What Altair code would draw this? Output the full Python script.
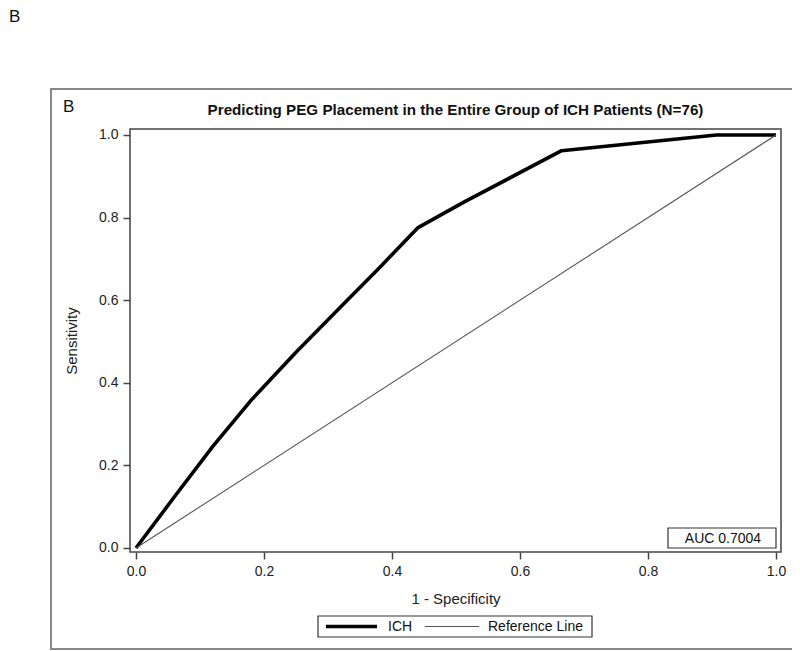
import altair as alt
import pandas as pd

# ---- data ----
fpr = [0.0, 0.06, 0.12, 0.18, 0.25, 0.32, 0.38, 0.44, 0.513, 0.665, 0.907, 1.0]
tpr = [0.0, 0.124, 0.246, 0.358, 0.474, 0.584, 0.678, 0.775, 0.838, 0.962, 1.0, 1.0]
ref_x = [0.0, 1.0]
ref_y = [0.0, 1.0]
series_names = ["ICH", "Reference Line"]
x_ticks = [0.0, 0.2, 0.4, 0.6, 0.8, 1.0]
y_ticks = [0.0, 0.2, 0.4, 0.6, 0.8, 1.0]
auc = 0.7004
title_text = "Predicting PEG Placement in the Entire Group of ICH Patients (N=76)"
panel_label = "B"
x_title = "1 - Specificity"
y_title = "Sensitivity"

df = pd.DataFrame({
    "x": fpr + ref_x,
    "y": tpr + ref_y,
    "series": [series_names[0]] * len(fpr) + [series_names[1]] * len(ref_x),
    "order": list(range(len(fpr))) + list(range(len(ref_x))),
})
one = pd.DataFrame({"k": [0]})

FONT = "Liberation Sans"
W, H = 651, 423

xs = alt.Scale(domain=[-0.0094, 1.0078], nice=False, zero=False)
ys = alt.Scale(domain=[-0.0097, 1.0145], nice=False, zero=False)

common_axis = dict(
    grid=False, domain=False, format=".1f",
    tickSize=7, tickWidth=1.5, tickColor="#444",
    labelFont=FONT, labelFontSize=14, labelColor="#222",
    titleFont=FONT, titleFontSize=15, titleFontWeight="normal", titleColor="#222",
)

lines = alt.Chart(df).mark_line(strokeJoin="round").encode(
    x=alt.X("x:Q", scale=xs, axis=alt.Axis(
        values=x_ticks, title=x_title, labelPadding=5,
        titleY=46, titleBaseline="middle", **common_axis)),
    y=alt.Y("y:Q", scale=ys, axis=alt.Axis(
        values=y_ticks, title=y_title, labelPadding=5,
        titleX=-59, titleY=H / 2, titleAngle=270, titleAlign="center", titleBaseline="middle",
        **common_axis)),
    color=alt.Color("series:N", scale=alt.Scale(domain=series_names, range=["#000000", "#555555"]), legend=None),
    strokeWidth=alt.StrokeWidth("series:N", scale=alt.Scale(domain=series_names, range=[3.6, 1.1]), legend=None),
    order="order:Q",
)

base = alt.Chart(one)

outer_frame = base.mark_rect(fillOpacity=0, stroke="#888888", strokeWidth=2).encode(
    x=alt.value(-79), x2=alt.value(667), y=alt.value(-40), y2=alt.value(520))

title = base.mark_text(font=FONT, fontSize=15.2, fontWeight="bold", color="#111", align="center", baseline="middle").encode(
    x=alt.value(W / 2), y=alt.value(-19), text=alt.value(title_text))

label_inner = base.mark_text(font=FONT, fontSize=17, color="#111", align="left", baseline="alphabetic").encode(
    x=alt.value(-67), y=alt.value(-17), text=alt.value(panel_label))

label_outer = base.mark_text(font=FONT, fontSize=17, color="#111", align="left", baseline="alphabetic").encode(
    x=alt.value(-121), y=alt.value(-107), text=alt.value(panel_label))

inset_box = base.mark_rect(fill="white", stroke="#333", strokeWidth=1.2).encode(
    x=alt.value(538), x2=alt.value(646), y=alt.value(399), y2=alt.value(419))
inset_text = base.mark_text(font=FONT, fontSize=14, color="#111", align="center", baseline="middle").encode(
    x=alt.value(593), y=alt.value(409.5), text=alt.value(f"AUC  {auc:.4f}"))

legend_box = base.mark_rect(fill="white", stroke="#333", strokeWidth=1.2).encode(
    x=alt.value(188), x2=alt.value(462), y=alt.value(487), y2=alt.value(508))
legend_thick = base.mark_rule(color="#000", strokeWidth=3.6).encode(
    x=alt.value(196), x2=alt.value(247), y=alt.value(497.5))
legend_thin = base.mark_rule(color="#555", strokeWidth=1.1).encode(
    x=alt.value(295), x2=alt.value(349), y=alt.value(497.5))
legend_t1 = base.mark_text(font=FONT, fontSize=14, color="#111", align="left", baseline="middle").encode(
    x=alt.value(258), y=alt.value(498), text=alt.value(series_names[0]))
legend_t2 = base.mark_text(font=FONT, fontSize=14, color="#111", align="left", baseline="middle").encode(
    x=alt.value(358), y=alt.value(498), text=alt.value(series_names[1]))

chart = alt.layer(
    outer_frame, lines, title, label_inner, label_outer, inset_box, inset_text,
    legend_box, legend_thick, legend_thin, legend_t1, legend_t2,
).properties(
    width=W, height=H,
    autosize=alt.AutoSizeParams(type="none"),
    padding={"left": 122, "top": 121, "right": 11, "bottom": 99},
    background="white",
).configure_view(stroke="#444", strokeWidth=1.5)

chart.save("out.html", embed_options={"renderer": "svg", "actions": False})
